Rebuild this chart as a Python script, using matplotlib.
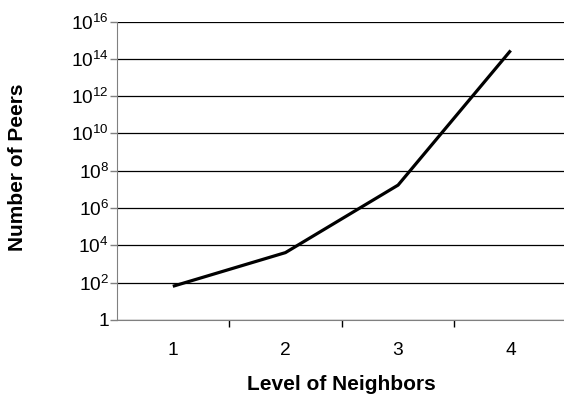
import matplotlib
matplotlib.use("Agg")
import matplotlib.pyplot as plt
import numpy as np

plt.rcParams['font.family'] = ['Liberation Sans', 'DejaVu Sans']
plt.rcParams['mathtext.fontset'] = 'custom'
plt.rcParams['mathtext.rm'] = 'Liberation Sans'
plt.rcParams['mathtext.it'] = 'Liberation Sans'

# data
levels = [1, 2, 3, 4]
peers = [64, 4096, 1.7e7, 2.8e14]
ytick_exps = [0, 2, 4, 6, 8, 10, 12, 14, 16]
ytick_labels = ['1'] + ['$10^{%d}$' % e for e in ytick_exps[1:]]

fig = plt.figure(figsize=(5.64, 3.98), dpi=100)
ax = fig.add_axes([116.5 / 564, 1 - 320 / 398, (567 - 116.5) / 564, (320 - 21.5) / 398])

ax.plot(levels, peers, color='black', lw=2.3, solid_capstyle='butt')

ax.set_yscale('log')
ax.set_ylim(1, 1e16)
ax.set_yticks([10.0 ** e for e in ytick_exps])
ax.set_yticklabels(ytick_labels, fontsize=13.8)
ax.yaxis.set_minor_locator(matplotlib.ticker.NullLocator())
ax.yaxis.grid(True, color='black', lw=0.9)
ax.set_axisbelow(True)

ax.set_xlim(0.5, 4.5)
ax.set_xticks(levels)
ax.set_xticklabels([str(v) for v in levels], fontsize=13.8)
ax.set_xticks([1.5, 2.5, 3.5, 4.5], minor=True)
ax.tick_params(axis='x', which='major', length=0, pad=16)
ax.tick_params(axis='x', which='minor', length=5, color='black', width=1)
ax.tick_params(axis='y', which='major', length=5, color='#808080', width=1, pad=0.5)

for s in ['top', 'right']:
    ax.spines[s].set_visible(False)
ax.spines['left'].set_color('#808080')
ax.spines['bottom'].set_color('#808080')

ax.set_xlabel('Level of Neighbors', fontsize=15, fontweight='bold', labelpad=11)
fig.text(17.5 / 564, 1 - 167.5 / 398, 'Number of Peers', rotation=90, fontsize=15,
         fontweight='bold', ha='center', va='center')

fig.savefig('out.png', dpi=100)
